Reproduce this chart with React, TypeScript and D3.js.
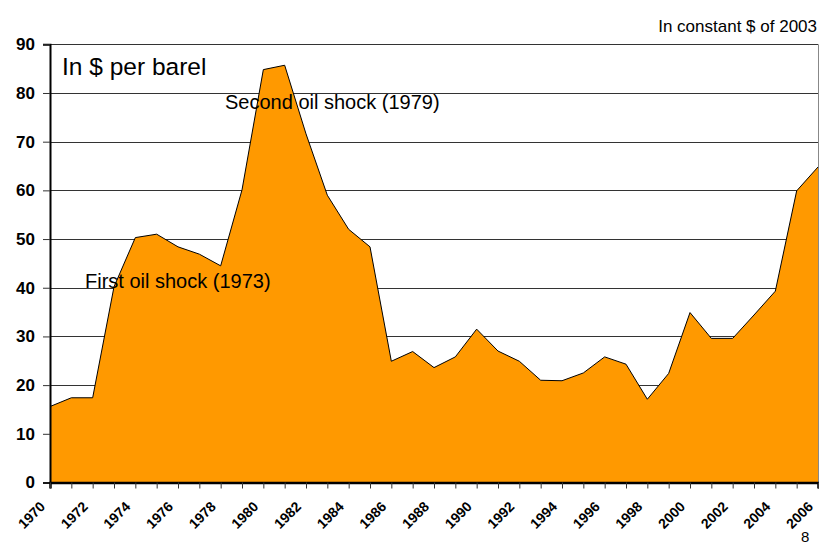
import React, { useEffect, useRef } from 'react'
import * as d3 from 'd3'

// years on the category axis
const years = [
  1970, 1971, 1972, 1973, 1974, 1975, 1976, 1977, 1978, 1979,
  1980, 1981, 1982, 1983, 1984, 1985, 1986, 1987, 1988, 1989,
  1990, 1991, 1992, 1993, 1994, 1995, 1996, 1997, 1998, 1999,
  2000, 2001, 2002, 2003, 2004, 2005, 2006,
]

// crude oil price, constant $ of 2003
const prices = [
  15.6, 17.4, 17.4, 40.2, 50.3, 51.0, 48.4, 46.9, 44.5, 60.1,
  84.8, 85.7, 71.6, 59.0, 52.0, 48.4, 24.9, 26.9, 23.6, 25.8,
  31.5, 27.0, 24.9, 21.0, 20.9, 22.5, 25.8, 24.3, 17.1, 22.4,
  34.9, 29.6, 29.6, 34.4, 39.3, 59.9, 64.8,
]

const yTicks = [0, 10, 20, 30, 40, 50, 60, 70, 80, 90]
const xLabels = years.filter((d, i) => i % 2 === 0)

const W = 819, H = 545
const font = 'Arial, "Liberation Sans", sans-serif'

export default function App() {
  const ref = useRef<SVGSVGElement>(null)

  useEffect(() => {
    const svg = d3.select(ref.current)
    svg.selectAll('*').remove()

    const left = 50, right = 818, top = 44.3, bottom = 482.5

    const x = d3.scalePoint<number>().domain(years).range([left, right])
    const y = d3.scaleLinear().domain([0, 90]).range([bottom, top])

    const data = years.map((yr, i) => ({ yr, v: prices[i] }))

    // gridlines
    svg.append('g')
      .selectAll('line')
      .data(yTicks.slice(1))
      .enter()
      .append('line')
      .attr('x1', left).attr('x2', right)
      .attr('y1', d => Math.round(y(d)) + 0.5)
      .attr('y2', d => Math.round(y(d)) + 0.5)
      .attr('stroke', '#333')
      .attr('stroke-width', 1)

    // right border of the plot
    svg.append('line')
      .attr('x1', right + 0.5).attr('x2', right + 0.5)
      .attr('y1', top).attr('y2', bottom)
      .attr('stroke', '#888')

    // area
    const area = d3.area<{ yr: number, v: number }>()
      .x(d => x(d.yr)!)
      .y0(y(0))
      .y1(d => y(d.v))
    svg.append('path')
      .datum(data)
      .attr('d', area)
      .attr('fill', '#FF9900')

    const line = d3.line<{ yr: number, v: number }>()
      .x(d => x(d.yr)!)
      .y(d => y(d.v))
    svg.append('path')
      .datum(data)
      .attr('d', line)
      .attr('fill', 'none')
      .attr('stroke', '#000')
      .attr('stroke-width', 1)

    // y axis
    const gY = svg.append('g')
      .attr('transform', `translate(${left},0)`)
      .call(d3.axisLeft(y).tickValues(yTicks).tickSize(7).tickPadding(8).tickFormat(d3.format('d')))
    gY.select('.domain').attr('stroke', '#000').attr('stroke-width', 2)
    gY.selectAll('.tick line').attr('stroke', '#333')
    gY.selectAll('.tick text')
      .attr('font-size', 17)
      .attr('font-weight', 'bold')
      .attr('font-family', font)
      .attr('fill', '#000')

    // x axis
    const gX = svg.append('g')
      .attr('transform', `translate(0,${bottom})`)
      .call(d3.axisBottom(x).tickValues(years).tickSize(6).tickFormat(() => ''))
    gX.select('.domain').attr('stroke', '#000').attr('stroke-width', 2.5)
    gX.selectAll('.tick line').attr('stroke', '#333')

    svg.append('g')
      .selectAll('text')
      .data(xLabels)
      .enter()
      .append('text')
      .attr('transform', d => `translate(${x(d)! - 4},${bottom + 25}) rotate(-45)`)
      .attr('text-anchor', 'end')
      .attr('font-size', 14)
      .attr('font-weight', 'bold')
      .attr('font-family', font)
      .attr('fill', '#000')
      .text(d => d)

    // annotations
    const note = (tx: number, ty: number, size: number, s: string, anchor = 'start') =>
      svg.append('text')
        .attr('x', tx).attr('y', ty)
        .attr('font-size', size)
        .attr('font-family', font)
        .attr('text-anchor', anchor)
        .attr('fill', '#000')
        .text(s)

    note(62, 75, 24.5, 'In $ per barel')
    note(225, 109, 20, 'Second oil shock (1979)')
    note(85, 288, 20, 'First oil shock (1973)')
    note(817, 32, 17, 'In constant $ of 2003', 'end')
    note(801, 542, 15, '8')
  }, [])

  return (
    <svg ref={ref} width={W} height={H}
      style={{ position: 'absolute', left: 0, top: 0, background: '#fff' }} />
  )
}
